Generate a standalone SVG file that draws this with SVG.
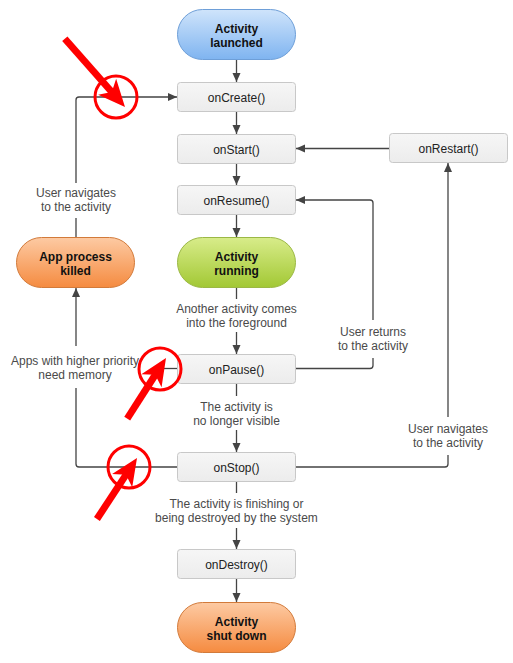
<svg xmlns="http://www.w3.org/2000/svg" width="513" height="663" viewBox="0 0 513 663">
<style>
.box{fill:url(#gGray);stroke:#c8c8c8;stroke-width:1}
.bt{font-family:"Liberation Sans",Arial,sans-serif;font-size:12px;fill:#222;text-anchor:middle}
.pt{font-family:"Liberation Sans",Arial,sans-serif;font-size:12px;font-weight:bold;fill:#111;text-anchor:middle}
.lt{font-family:"Liberation Sans",Arial,sans-serif;font-size:12px;fill:#4a4a4a;text-anchor:middle}
.c{fill:none;stroke:#444;stroke-width:1.3}
.ca{fill:none;stroke:#444;stroke-width:1.3;marker-end:url(#ah)}
.red{stroke:#ff0000;fill:none}
</style>
<defs>
<linearGradient id="gGray" x1="0" y1="0" x2="0" y2="1"><stop offset="0" stop-color="#f6f6f6"/><stop offset="1" stop-color="#ececec"/></linearGradient>
<linearGradient id="gBlue" x1="0" y1="0" x2="0" y2="1"><stop offset="0" stop-color="#cfe4fb"/><stop offset="1" stop-color="#7fb4f0"/></linearGradient>
<linearGradient id="gGreen" x1="0" y1="0" x2="0" y2="1"><stop offset="0" stop-color="#d8ec8a"/><stop offset="1" stop-color="#a2c834"/></linearGradient>
<linearGradient id="gOrange" x1="0" y1="0" x2="0" y2="1"><stop offset="0" stop-color="#fdcaa3"/><stop offset="1" stop-color="#f58b40"/></linearGradient>
<marker id="ah" markerUnits="userSpaceOnUse" markerWidth="10" markerHeight="10" refX="9" refY="4" orient="auto"><path d="M0,0 L9,4 L0,8 z" fill="#444"/></marker>
<polygon id="rhead" points="0,0 -27,-12 -20,0 -27,12" fill="#ff0000"/>
</defs>

<g id="connectors">
<line class="ca" x1="236.5" y1="60" x2="236.5" y2="82"/>
<line class="ca" x1="236.5" y1="111" x2="236.5" y2="134"/>
<line class="ca" x1="236.5" y1="163" x2="236.5" y2="185"/>
<line class="ca" x1="236.5" y1="214" x2="236.5" y2="237"/>
<line class="c" x1="236.5" y1="288" x2="236.5" y2="299"/>
<text class="lt" x="236.5" y="313">Another activity comes</text>
<text class="lt" x="236.5" y="327">into the foreground</text>
<line class="ca" x1="236.5" y1="332" x2="236.5" y2="354"/>
<line class="c" x1="236.5" y1="383" x2="236.5" y2="396"/>
<text class="lt" x="236.5" y="411">The activity is</text>
<text class="lt" x="236.5" y="425">no longer visible</text>
<line class="ca" x1="236.5" y1="430" x2="236.5" y2="452"/>
<line class="c" x1="236.5" y1="481" x2="236.5" y2="493"/>
<text class="lt" x="236.5" y="508">The activity is finishing or</text>
<text class="lt" x="236.5" y="522">being destroyed by the system</text>
<line class="ca" x1="236.5" y1="528" x2="236.5" y2="549"/>
<line class="ca" x1="236.5" y1="578" x2="236.5" y2="602"/>
<!-- onRestart -> onStart -->
<line class="ca" x1="389" y1="148.5" x2="296" y2="148.5"/>
<!-- onStop -> onRestart -->
<path class="c" d="M296,467 H445 Q448,467 448,464 V455"/>
<text class="lt" x="448" y="433">User navigates</text>
<text class="lt" x="448" y="447">to the activity</text>
<line class="ca" x1="448" y1="417" x2="448" y2="163"/>
<!-- onPause -> onResume -->
<path class="c" d="M296,368.5 H370 Q373,368.5 373,365.5 V358"/>
<text class="lt" x="373" y="336">User returns</text>
<text class="lt" x="373" y="350">to the activity</text>
<path class="ca" d="M373,320 V203 Q373,200 370,200 H296"/>
<!-- onStop / onPause -> App process killed -->
<path class="c" d="M177,467 H79 Q76,467 76,464 V388"/>
<line class="c" x1="177" y1="368.5" x2="163" y2="368.5"/>
<text class="lt" x="75" y="365">Apps with higher priority</text>
<text class="lt" x="75" y="379">need memory</text>
<line class="ca" x1="76" y1="346" x2="76" y2="288"/>
<!-- App process killed -> onCreate -->
<line class="c" x1="76" y1="237" x2="76" y2="218"/>
<text class="lt" x="76" y="197">User navigates</text>
<text class="lt" x="76" y="211">to the activity</text>
<path class="ca" d="M76,183 V100 Q76,97 79,97 H177"/>
</g>

<g id="launched"><rect x="177.5" y="9.5" width="118" height="50" rx="25" fill="url(#gBlue)" stroke="#6e9fd8"/><text class="pt" x="236.5" y="33">Activity</text><text class="pt" x="236.5" y="47">launched</text></g>
<g id="onCreate"><rect class="box" x="177.5" y="82.5" width="118" height="29" rx="3"/><text class="bt" x="236.5" y="101.5">onCreate()</text></g>
<g id="onStart"><rect class="box" x="177.5" y="134.5" width="118" height="29" rx="3"/><text class="bt" x="236.5" y="153.5">onStart()</text></g>
<g id="onRestart"><rect class="box" x="389.5" y="133.5" width="118" height="29" rx="3"/><text class="bt" x="448.5" y="152.5">onRestart()</text></g>
<g id="onResume"><rect class="box" x="177.5" y="185.5" width="118" height="29" rx="3"/><text class="bt" x="236.5" y="204.5">onResume()</text></g>
<g id="running"><rect x="177.5" y="237.5" width="118" height="50" rx="25" fill="url(#gGreen)" stroke="#9bb845"/><text class="pt" x="236.5" y="261">Activity</text><text class="pt" x="236.5" y="275">running</text></g>
<g id="killed"><rect x="16.5" y="237.5" width="118" height="50" rx="25" fill="url(#gOrange)" stroke="#d27a3a"/><text class="pt" x="75.5" y="261">App process</text><text class="pt" x="75.5" y="275">killed</text></g>
<g id="onPause"><rect class="box" x="177.5" y="354.5" width="118" height="29" rx="3"/><text class="bt" x="236.5" y="373.5">onPause()</text></g>
<g id="onStop"><rect class="box" x="177.5" y="452.5" width="118" height="29" rx="3"/><text class="bt" x="236.5" y="471.5">onStop()</text></g>
<g id="onDestroy"><rect class="box" x="177.5" y="549.5" width="118" height="29" rx="3"/><text class="bt" x="236.5" y="568.5">onDestroy()</text></g>
<g id="shutdown"><rect x="177.5" y="602.5" width="118" height="50" rx="25" fill="url(#gOrange)" stroke="#d27a3a"/><text class="pt" x="236.5" y="626">Activity</text><text class="pt" x="236.5" y="640">shut down</text></g>

<g id="annotations">
<circle class="red" cx="116" cy="97" r="21" stroke-width="3"/>
<g transform="translate(125,107) rotate(48.6)"><line x1="-91" y1="0" x2="-19" y2="0" stroke="#ff0000" stroke-width="7"/><use href="#rhead"/></g>
<circle class="red" cx="160" cy="369" r="21" stroke-width="3"/>
<g transform="translate(166,358) rotate(-57.4)"><line x1="-72" y1="0" x2="-19" y2="0" stroke="#ff0000" stroke-width="7"/><use href="#rhead"/></g>
<circle class="red" cx="129" cy="467" r="21" stroke-width="3"/>
<g transform="translate(137,458) rotate(-56.7)"><line x1="-73" y1="0" x2="-19" y2="0" stroke="#ff0000" stroke-width="7"/><use href="#rhead"/></g>
</g>
</svg>
